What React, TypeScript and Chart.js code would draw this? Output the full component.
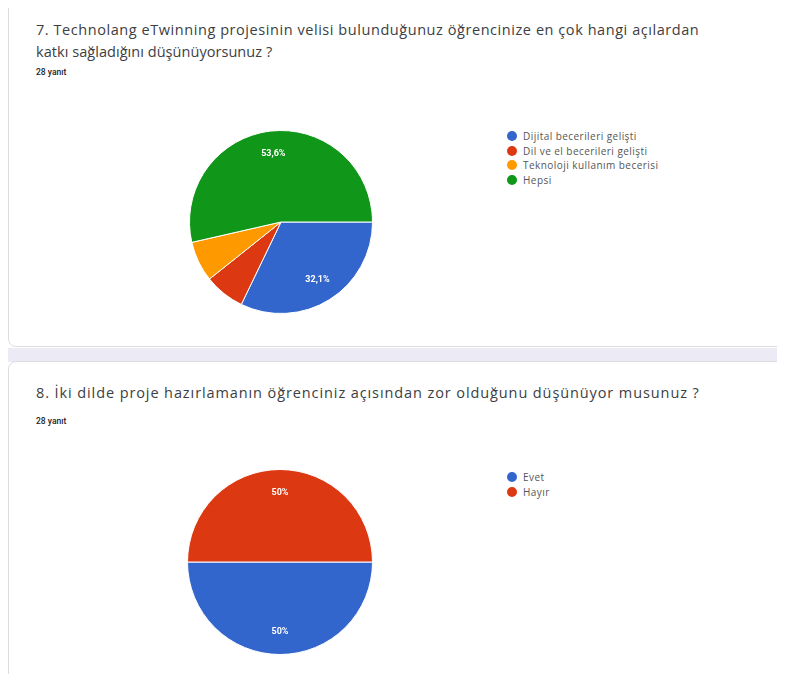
import React, { useEffect, useRef } from "react";
import { Chart, registerables } from "chart.js";

Chart.register(...registerables);

const q1Title = "7. Technolang eTwinning projesinin velisi bulunduğunuz öğrencinize en çok hangi açılardan katkı sağladığını düşünüyorsunuz ?";
const q1Labels = ["Dijital becerileri gelişti", "Dil ve el becerileri gelişti", "Teknoloji kullanım becerisi", "Hepsi"];
const q1Values = [9, 2, 2, 15];
const q1Colors = ["#3366cc", "#dc3912", "#ff9900", "#109618"];

const q2Title = "8. İki dilde proje hazırlamanın öğrenciniz açısından zor olduğunu düşünüyor musunuz ?";
const q2Labels = ["Evet", "Hayır"];
const q2Values = [14, 14];
const q2Colors = ["#3366cc", "#dc3912"];

const responses = "28 yanıt";

function fmtPct(v: number, total: number): string {
  const p = Math.round((v / total) * 1000) / 10;
  const s = Number.isInteger(p) ? String(p) : p.toFixed(1);
  return s.replace(".", ",") + "%";
}

const pctPlugin = {
  id: "pctLabels",
  afterDatasetsDraw(chart: any) {
    const ctx = chart.ctx;
    const meta = chart.getDatasetMeta(0);
    const data: number[] = chart.data.datasets[0].data;
    const total = data.reduce((a, b) => a + b, 0);
    ctx.save();
    ctx.fillStyle = "#ffffff";
    ctx.font = "bold 9px Roboto";
    ctx.textAlign = "center";
    ctx.textBaseline = "middle";
    meta.data.forEach((arc: any, i: number) => {
      if (data[i] / total < 0.1) return;
      const p = arc.getProps(["x", "y", "startAngle", "endAngle", "outerRadius"], true);
      const mid = (p.startAngle + p.endAngle) / 2;
      const r = p.outerRadius * 0.75;
      ctx.fillText(fmtPct(data[i], total), p.x + Math.cos(mid) * r, p.y + Math.sin(mid) * r);
    });
    ctx.restore();
  },
};

function Pie({ labels, values, colors, size }: { labels: string[]; values: number[]; colors: string[]; size: number }) {
  const ref = useRef<HTMLCanvasElement | null>(null);
  useEffect(() => {
    if (!ref.current) return;
    const chart = new Chart(ref.current, {
      type: "pie",
      data: {
        labels,
        datasets: [{ data: values, backgroundColor: colors, borderColor: "#ffffff", borderWidth: 1 }],
      },
      options: {
        responsive: false,
        animation: false,
        rotation: 90,
        layout: { padding: 0 },
        plugins: { legend: { display: false }, tooltip: { enabled: false } },
      },
      plugins: [pctPlugin],
    });
    return () => chart.destroy();
  }, []);
  return <canvas ref={ref} width={size} height={size} style={{ width: size, height: size }} />;
}

function Legend({ labels, colors, top, left, gap }: { labels: string[]; colors: string[]; top: number; left: number; gap: number }) {
  return (
    <div style={{ position: "absolute", top, left }}>
      {labels.map((l, i) => (
        <div key={l} style={{ position: "absolute", top: i * gap, left: 0, display: "flex", alignItems: "center", whiteSpace: "nowrap" }}>
          <span style={{ width: 10, height: 10, borderRadius: 5, background: colors[i], display: "inline-block" }} />
          <span style={{ marginLeft: 6, fontSize: 10, letterSpacing: 0.45, color: "#555", fontFamily: "'Open Sans'", lineHeight: "10px" }}>{l}</span>
        </div>
      ))}
    </div>
  );
}

const titleStyle: React.CSSProperties = {
  position: "absolute",
  left: 36,
  fontFamily: "'Open Sans'",
  fontSize: 14.5,
  color: "#3c4043",
  lineHeight: "22px",
  whiteSpace: "nowrap",
};
const countStyle: React.CSSProperties = {
  position: "absolute",
  left: 36,
  fontFamily: "Roboto",
  fontSize: 8.5,
  fontWeight: 500,
  color: "#202124",
  lineHeight: "10px",
};

export default function App() {
  const [l1a, l1b] = [q1Title.slice(0, q1Title.indexOf(" katkı")), q1Title.slice(q1Title.indexOf(" katkı") + 1)];
  return (
    <div style={{ position: "relative", width: 785, height: 682, overflow: "hidden", background: "#ffffff", margin: -8 }}>
      <div style={{ position: "absolute", left: 8, top: -20, width: 800, height: 367, border: "1px solid #dadce0", borderRadius: 8, background: "#fff", boxSizing: "border-box" }} />
      <div style={{ position: "absolute", left: 0, top: 348, width: 785, height: 14, background: "#ecebf5" }} />
      <div style={{ position: "absolute", left: 8, top: 361, width: 800, height: 340, border: "1px solid #dadce0", borderRadius: 8, background: "#fff", boxSizing: "border-box" }} />

      <div style={{ ...titleStyle, top: 19, letterSpacing: 0.56 }}>{l1a}</div>
      <div style={{ ...titleStyle, top: 41, letterSpacing: 0.05 }}>{l1b}</div>
      <div style={{ ...countStyle, top: 67 }}>{responses}</div>
      <div style={{ position: "absolute", left: 189, top: 130 }}>
        <Pie labels={q1Labels} values={q1Values} colors={q1Colors} size={184} />
      </div>
      <Legend labels={q1Labels} colors={q1Colors} top={131} left={507} gap={14.7} />

      <div style={{ ...titleStyle, top: 382, letterSpacing: 0.9 }}>{q2Title}</div>
      <div style={{ ...countStyle, top: 416 }}>{responses}</div>
      <div style={{ position: "absolute", left: 187, top: 469 }}>
        <Pie labels={q2Labels} values={q2Values} colors={q2Colors} size={186} />
      </div>
      <Legend labels={q2Labels} colors={q2Colors} top={472} left={507} gap={15} />
    </div>
  );
}
